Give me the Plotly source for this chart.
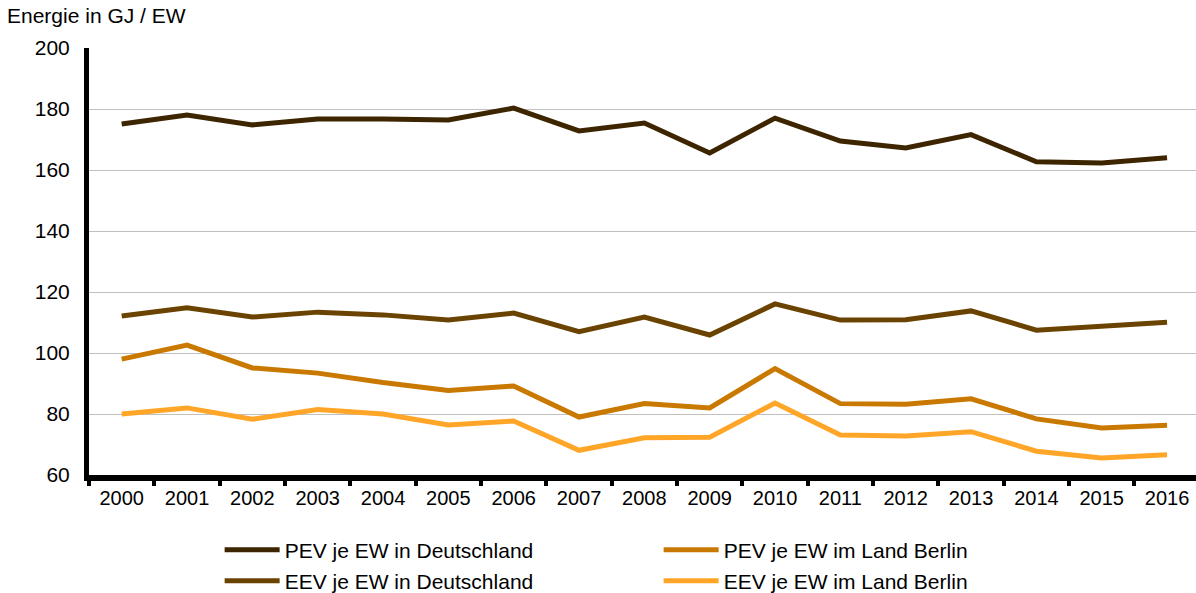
import plotly.graph_objects as go

years = [str(y) for y in range(2000, 2017)]

pev_de = [175.1, 178.0, 174.8, 176.7, 176.7, 176.4, 180.3, 172.8, 175.4, 165.6, 177.0, 169.5, 167.2, 171.6, 162.7, 162.3, 164.0]
eev_de = [112.1, 114.8, 111.8, 113.4, 112.5, 110.8, 113.1, 107.0, 111.8, 105.9, 116.1, 110.8, 110.9, 113.8, 107.5, 108.9, 110.1]
pev_be = [98.0, 102.6, 95.1, 93.4, 90.3, 87.7, 89.2, 79.0, 83.4, 82.0, 94.9, 83.4, 83.2, 85.0, 78.4, 75.4, 76.3]
eev_be = [80.0, 82.0, 78.3, 81.5, 80.0, 76.4, 77.7, 68.1, 72.2, 72.4, 83.6, 73.1, 72.8, 74.2, 67.8, 65.6, 66.6]

names = ["PEV je EW in Deutschland", "PEV je EW im Land Berlin",
         "EEV je EW in Deutschland", "EEV je EW im Land Berlin"]
colors = ["#3d2500", "#c97800", "#6b4300", "#ffa628"]
series = [pev_de, pev_be, eev_de, eev_be]
legends = ["legend", "legend", "legend2", "legend2"]

FONT = "Liberation Sans, Arial, sans-serif"

fig = go.Figure()
for name, vals, col, lg in zip(names, series, colors, legends):
    fig.add_trace(go.Scatter(
        x=years, y=vals, name=name, mode="lines",
        line=dict(color=col, width=5),
        legend=lg, hoverinfo="skip",
    ))

legend_common = dict(
    orientation="h", xref="paper", yref="container",
    xanchor="left", yanchor="middle",
    font=dict(family=FONT, size=21, color="#000000"),
    entrywidth=369, entrywidthmode="pixels",
    itemwidth=55, bgcolor="rgba(0,0,0,0)", borderwidth=0,
)

fig.update_layout(
    width=1196, height=593,
    paper_bgcolor="white", plot_bgcolor="white",
    margin=dict(l=89, r=0, t=48, b=118, autoexpand=False),
    font=dict(family=FONT, size=20, color="#000000"),
    showlegend=True,
    legend=dict(x=0.118, y=1 - 550 / 593, **legend_common),
    legend2=dict(x=0.118, y=1 - 581 / 593, **legend_common),
    xaxis=dict(
        type="category", range=[-0.5, 16.443],
        showline=True, linecolor="#000000", linewidth=6,
        ticks="outside", tickson="boundaries", ticklen=5, tickwidth=4,
        tickcolor="#000000", showgrid=False, zeroline=False,
        tickfont=dict(family=FONT, size=20, color="#000000"),
        ticklabelstandoff=0,
    ),
    yaxis=dict(
        range=[60, 200], dtick=20, tick0=60,
        showline=True, linecolor="#000000", linewidth=5,
        showgrid=True, gridcolor="#c0c0c0", gridwidth=1,
        zeroline=False, ticks="",
        tickfont=dict(family=FONT, size=21, color="#000000"),
        ticklabelstandoff=10,
    ),
    annotations=[dict(
        text="Energie in GJ / EW", xref="paper", yref="paper",
        x=-89 / 1107, y=1 + 32 / 427, xanchor="left", yanchor="middle",
        showarrow=False, font=dict(family=FONT, size=21, color="#000000"),
        xshift=5,
    )],
)

fig.write_html(
    "out.html",
    config={"displayModeBar": False},
    post_script="document.body.style.margin='0';document.body.style.overflow='hidden';",
)
